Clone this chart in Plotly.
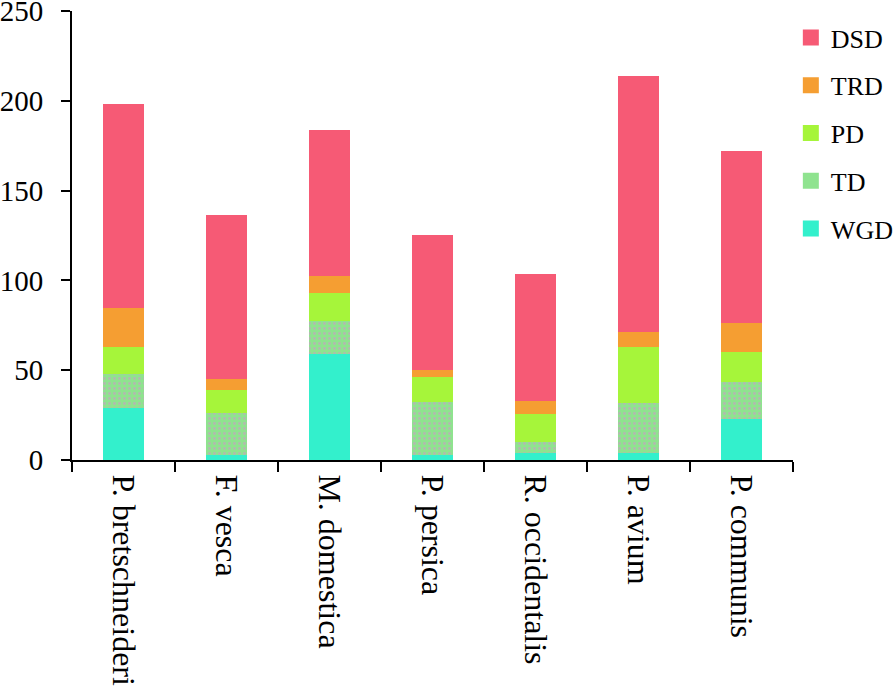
import plotly.graph_objects as go

categories = ["P. bretschneideri", "F. vesca", "M. domestica", "P. persica",
              "R. occidentalis", "P. avium", "P. communis"]
WGD = [29, 3, 59, 3, 4, 4, 23]
TD = [19, 23, 18.5, 29.5, 6, 27.5, 20.5]
PD = [15, 13, 15.5, 13.5, 15.5, 31.5, 16.5]
TRD = [21.5, 6, 9.5, 4, 7.5, 8.5, 16.5]
DSD = [113.5, 91.5, 81.5, 75.5, 70.5, 142.5, 95.5]
series_names = ["WGD", "TD", "PD", "TRD", "DSD"]
series_vals = [WGD, TD, PD, TRD, DSD]
colors = {"WGD": "#33f0cc", "TD": "#8fe38f", "PD": "#a6f53a",
          "TRD": "#f59e32", "DSD": "#f65a75"}

FONT = "Liberation Serif"
fig = go.Figure()
for name, vals in zip(series_names, series_vals):
    marker = dict(color=colors[name], line=dict(width=0))
    if name == "TD":
        marker["pattern"] = dict(shape=".", fillmode="overlay", fgcolor="#d58fcf",
                                 size=5, solidity=0.25)
    fig.add_trace(go.Bar(x=categories, y=vals, name=name, marker=marker,
                         width=0.4, showlegend=False))

# legend entries (larger square symbols)
for name in ["DSD", "TRD", "PD", "TD", "WGD"]:
    fig.add_trace(go.Scatter(x=[None], y=[None], mode="markers", name=name,
                             legendgroup=name,
                             marker=dict(symbol="square", size=19, color=colors[name]),
                             showlegend=True))

fig.update_layout(
    barmode="stack",
    width=895, height=690,
    margin=dict(l=72, r=102, t=11, b=230, autoexpand=False),
    paper_bgcolor="white", plot_bgcolor="white",
    font=dict(family=FONT, color="black"),
    legend=dict(x=0.997, xanchor="left", y=1.0 - 3 / 449, yanchor="top",
                font=dict(size=26, family=FONT), tracegroupgap=11,
                traceorder="grouped", bgcolor="rgba(0,0,0,0)"),
    xaxis=dict(type="category", showline=True, linecolor="black", linewidth=2,
               ticks="outside", tickson="boundaries", ticklen=10, tickwidth=2,
               tickcolor="black", tickangle=90, tickfont=dict(size=32, family=FONT),
               ticklabelstandoff=6,
               showgrid=False, zeroline=False),
    yaxis=dict(range=[0, 250], tickvals=[0, 50, 100, 150, 200, 250],
               showline=True, linecolor="black", linewidth=2,
               ticks="outside", ticklen=9, tickwidth=2, tickcolor="black",
               tickfont=dict(size=29, family=FONT), ticklabelstandoff=12,
               ticklabeloverflow="allow",
               showgrid=False, zeroline=False),
)
fig.write_html("out.html", config={"displayModeBar": False},
               post_script="document.body.style.margin='0px';document.body.style.overflow='hidden';")
